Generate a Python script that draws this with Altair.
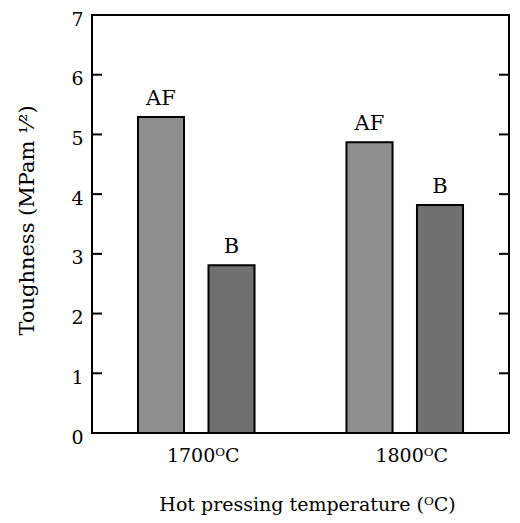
import altair as alt
import pandas as pd

temps = ["1700ᴼC", "1700ᴼC", "1800ᴼC", "1800ᴼC"]
kinds = ["AF", "B", "AF", "B"]
toughness = [5.29, 2.81, 4.87, 3.82]
y_ticks = [1, 2, 3, 4, 5, 6]
y_labels = [0, 1, 2, 3, 4, 5, 6, 7]

df = pd.DataFrame({"temp": temps, "kind": kinds, "val": toughness})
ticks_df = pd.DataFrame({"t": y_ticks})

FONT = "DejaVu Serif"
W, H = 417, 418

yscale = alt.Scale(domain=[0, 7], nice=False, zero=True)

x_enc = alt.X("temp:N", sort=["1700ᴼC", "1800ᴼC"],
              scale=alt.Scale(paddingInner=0, paddingOuter=0),
              axis=alt.Axis(title="Hot pressing temperature (ᴼC)", labelAngle=0,
                            labelFontSize=19, labelFont=FONT, labelColor="black",
                            labelPadding=13, labelOffset=7, ticks=False, domain=False,
                            titleFont=FONT, titleFontSize=19, titleFontWeight="normal",
                            titleColor="black", titleX=215, titleY=71,
                            titleBaseline="middle", titleAlign="center"))
xoff = alt.XOffset("kind:N", sort=["AF", "B"],
                   scale=alt.Scale(paddingInner=0.347, paddingOuter=0.652))

bars = alt.Chart(df).mark_bar(stroke="black", strokeWidth=2).encode(
    x=x_enc,
    xOffset=xoff,
    y=alt.Y("val:Q", scale=yscale,
            axis=alt.Axis(title="Toughness (MPam ¹⁄²)", values=y_labels, format="d",
                          grid=False, ticks=False, domain=False, labelFontSize=19,
                          labelFont=FONT, labelColor="black", labelPadding=9,
                          labelOffset=4,
                          titleFont=FONT, titleFontSize=21, titleFontWeight="normal",
                          titleColor="black", titleX=-65, titleY=205,
                          titleAngle=-90, titleBaseline="middle", titleAlign="center")),
    fill=alt.Fill("kind:N", scale=alt.Scale(domain=["AF", "B"], range=["#8e8e8e", "#707070"]),
                  legend=None),
)

labels = alt.Chart(df).mark_text(font=FONT, fontSize=21, baseline="alphabetic",
                                 dy=-12, color="black").encode(
    x=alt.X("temp:N", sort=["1700ᴼC", "1800ᴼC"]),
    xOffset=alt.XOffset("kind:N", sort=["AF", "B"]),
    y=alt.Y("val:Q"),
    text="kind:N",
)

left_ticks = alt.Chart(ticks_df).mark_rule(color="black", strokeWidth=2).encode(
    y=alt.Y("t:Q"), x=alt.value(0), x2=alt.value(10))
right_ticks = alt.Chart(ticks_df).mark_rule(color="black", strokeWidth=2).encode(
    y=alt.Y("t:Q"), x=alt.value(W - 10), x2=alt.value(W))

chart = alt.layer(bars, labels, left_ticks, right_ticks).properties(
    width=W, height=H,
    autosize=alt.AutoSizeParams(type="none"),
    padding={"left": 84, "top": 7, "right": 3, "bottom": 82},
).configure(background="white").configure_view(stroke="black", strokeWidth=2)

chart.save("out.html", embed_options={"renderer": "svg", "actions": False})
